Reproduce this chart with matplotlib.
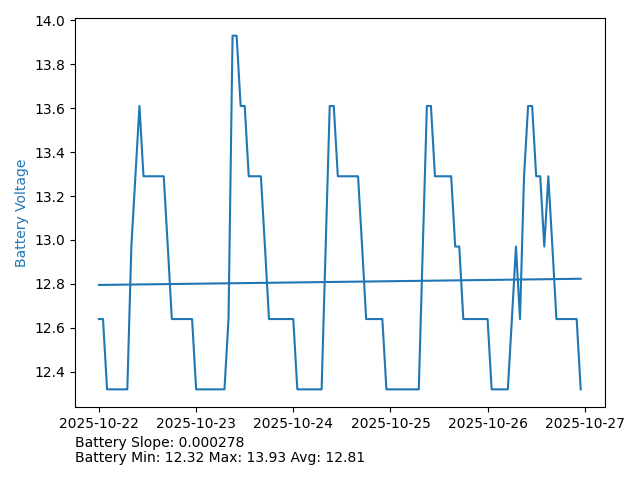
import numpy as np
import pandas as pd
import matplotlib
matplotlib.use("Agg")
import matplotlib.pyplot as plt

# hourly battery readings starting 2025-10-22 00:00
voltage = [
    # 10-22
    12.64, 12.64, 12.32, 12.32, 12.32, 12.32, 12.32, 12.32, 12.97, 13.29,
    13.61, 13.29, 13.29, 13.29, 13.29, 13.29, 13.29, 12.97, 12.64, 12.64,
    12.64, 12.64, 12.64, 12.64,
    # 10-23
    12.32, 12.32, 12.32, 12.32, 12.32, 12.32, 12.32, 12.32, 12.64, 13.93,
    13.93, 13.61, 13.61, 13.29, 13.29, 13.29, 13.29, 12.97, 12.64, 12.64,
    12.64, 12.64, 12.64, 12.64,
    # 10-24
    12.64, 12.32, 12.32, 12.32, 12.32, 12.32, 12.32, 12.32, 12.97, 13.61,
    13.61, 13.29, 13.29, 13.29, 13.29, 13.29, 13.29, 12.97, 12.64, 12.64,
    12.64, 12.64, 12.64, 12.32,
    # 10-25
    12.32, 12.32, 12.32, 12.32, 12.32, 12.32, 12.32, 12.32, 12.97, 13.61,
    13.61, 13.29, 13.29, 13.29, 13.29, 13.29, 12.97, 12.97, 12.64, 12.64,
    12.64, 12.64, 12.64, 12.64,
    # 10-26
    12.64, 12.32, 12.32, 12.32, 12.32, 12.32, 12.64, 12.97, 12.64, 13.29,
    13.61, 13.61, 13.29, 13.29, 12.97, 13.29, 12.97, 12.64, 12.64, 12.64,
    12.64, 12.64, 12.64, 12.32,
]
summary = ["Battery Slope: 0.000278", "Battery Min: 12.32 Max: 13.93 Avg: 12.81"]

times = pd.date_range("2025-10-22 00:00", periods=len(voltage), freq="h")
hours = np.arange(len(voltage))

# linear trend
coef = np.polyfit(hours, voltage, 1)
trend = np.polyval(coef, hours)

fig, ax = plt.subplots(figsize=(6.4, 4.8), dpi=100)
ax.plot(times, voltage, color="tab:blue")
ax.plot(times, trend, color="tab:blue")
ax.set_ylabel("Battery Voltage", color="tab:blue")

fig.subplots_adjust(left=0.117, right=0.945, top=0.9625, bottom=0.152)
fig.text(0.117, 1 - 436 / 480, "\n".join(summary), va="top", ha="left",
         linespacing=1.1)

plt.savefig("out.png")
